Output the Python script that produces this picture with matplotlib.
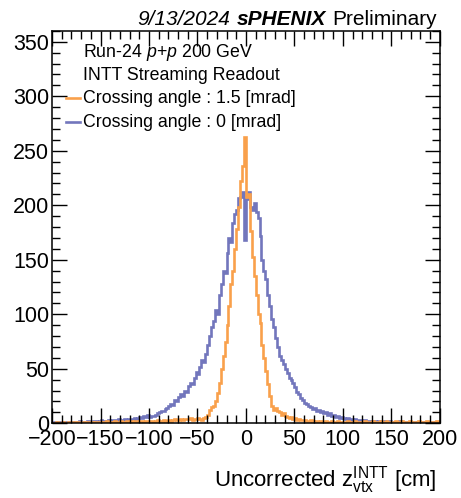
import numpy as np
import matplotlib
matplotlib.use("Agg")
import matplotlib.pyplot as plt
from matplotlib.ticker import MultipleLocator

plt.rcParams['font.family'] = ['Liberation Sans', 'DejaVu Sans']
plt.rcParams['mathtext.fontset'] = 'custom'
plt.rcParams['mathtext.rm'] = 'Liberation Sans'
plt.rcParams['mathtext.it'] = 'Liberation Sans:italic'

# 2 cm bins from -200 to 200 cm
bin_lo = -200
bin_hi = 200
n_bins = 200

# crossing angle 0 mrad
counts_0mrad = [
    0, 1, 0, 1, 1, 0, 1, 1, 0, 1,
    1, 0, 1, 1, 2, 1, 1, 0, 2, 1,
    1, 2, 2, 1, 2, 3, 1, 2, 2, 3,
    2, 3, 3, 2, 4, 3, 3, 4, 2, 4,
    4, 3, 5, 4, 5, 6, 5, 7, 6, 8,
    6, 7, 7, 8, 9, 10, 11, 11, 13, 14,
    16, 18, 17, 21, 20, 24, 27, 25, 30, 29,
    34, 37, 36, 42, 47, 45, 52, 58, 56, 64,
    72, 80, 88, 94, 104, 100, 118, 128, 140, 138,
    156, 170, 166, 184, 192, 196, 207, 208, 212, 168,
    206, 212, 198, 196, 202, 194, 188, 172, 150, 140,
    132, 118, 108, 96, 88, 78, 70, 62, 58, 54,
    50, 46, 42, 40, 37, 33, 29, 27, 23, 21,
    19, 18, 16, 15, 13, 14, 11, 12, 10, 11,
    9, 10, 8, 9, 7, 8, 6, 7, 5, 6,
    5, 4, 5, 3, 4, 3, 4, 2, 3, 3,
    2, 3, 2, 2, 1, 2, 2, 1, 2, 1,
    1, 2, 1, 1, 2, 1, 0, 1, 1, 2,
    1, 0, 1, 1, 0, 1, 1, 0, 1, 0,
    0, 1, 0, 1, 0, 0, 1, 0, 1, 0,
]

# crossing angle 1.5 mrad
counts_15mrad = [
    0, 0, 1, 0, 0, 1, 0, 0, 1, 0,
    0, 1, 0, 1, 0, 0, 1, 0, 1, 1,
    1, 0, 1, 1, 1, 0, 1, 1, 2, 1,
    1, 1, 2, 1, 1, 2, 1, 1, 2, 1,
    2, 1, 2, 2, 1, 2, 2, 1, 2, 2,
    2, 2, 1, 2, 3, 2, 2, 3, 2, 2,
    3, 2, 3, 4, 3, 3, 4, 3, 4, 4,
    4, 5, 3, 4, 4, 5, 4, 3, 5, 6,
    8, 12, 15, 16, 20, 28, 37, 50, 62, 75,
    90, 108, 128, 140, 160, 178, 198, 222, 236, 263,
    208, 210, 176, 153, 135, 118, 100, 92, 72, 60,
    48, 36, 25, 16, 12, 14, 11, 10, 8, 9,
    7, 6, 5, 6, 4, 5, 3, 4, 3, 3,
    3, 2, 2, 3, 2, 1, 2, 1, 2, 1,
    1, 2, 1, 1, 2, 1, 1, 2, 1, 1,
    1, 1, 2, 1, 1, 1, 2, 1, 1, 1,
    1, 2, 1, 1, 1, 2, 1, 1, 1, 2,
    1, 1, 2, 1, 1, 1, 1, 2, 1, 1,
    2, 1, 1, 1, 2, 1, 1, 1, 1, 2,
    1, 1, 1, 2, 1, 1, 1, 1, 2, 1,
]

label_15 = "Crossing angle : 1.5 [mrad]"
label_0 = "Crossing angle : 0 [mrad]"
orange = "#f9a04b"
blue = "#7276bc"

edges = np.linspace(bin_lo, bin_hi, n_bins + 1)

fig = plt.figure(figsize=(4.61, 4.98), dpi=100)
ax = fig.add_axes([0.113, 0.150, 0.841, 0.788])

ax.stairs(counts_0mrad, edges, color=blue, lw=1.9, baseline=None)
ax.stairs(counts_15mrad, edges, color=orange, lw=1.9, baseline=None)

ax.set_xlim(-200, 200)
ax.set_ylim(0, 360)
ax.xaxis.set_major_locator(MultipleLocator(50))
ax.xaxis.set_minor_locator(MultipleLocator(10))
ax.yaxis.set_major_locator(MultipleLocator(50))
ax.yaxis.set_minor_locator(MultipleLocator(10))
ax.tick_params(which='both', direction='in', top=True, right=True, labelsize=15.5)
ax.tick_params(which='major', length=11, width=1.0)
ax.tick_params(which='minor', length=6, width=1.0)
ax.tick_params(axis='x', pad=4)
ax.tick_params(axis='y', pad=2)
for s in ax.spines.values():
    s.set_linewidth(1.1)

# legend block
tx = 0.080
fs_leg = 12.8
ax.text(tx, 0.934, "Run-24 $\\mathit{p}$+$\\mathit{p}$ 200 GeV", transform=ax.transAxes,
        fontsize=fs_leg, va='baseline')
ax.text(tx, 0.875, "INTT Streaming Readout", transform=ax.transAxes,
        fontsize=fs_leg, va='baseline')
ax.text(tx, 0.816, label_15, transform=ax.transAxes, fontsize=fs_leg, va='baseline')
ax.text(tx, 0.755, label_0, transform=ax.transAxes, fontsize=fs_leg, va='baseline')
ax.plot([0.036, 0.072], [0.829, 0.829], color=orange, lw=1.9, transform=ax.transAxes)
ax.plot([0.036, 0.072], [0.768, 0.768], color=blue, lw=1.9, transform=ax.transAxes)

# header: 9/13/2024 sPHENIX Preliminary
fig.canvas.draw()
r = fig.canvas.get_renderer()
inv = fig.transFigure.inverted()
x_right = 0.948
y_base = 0.950
t3 = fig.text(x_right, y_base, "Preliminary", fontsize=15, ha='right', va='baseline')
x3 = inv.transform((t3.get_window_extent(r).x0, 0))[0]
t2 = fig.text(x3 - 0.014, y_base, "sPHENIX", fontsize=15, ha='right', va='baseline',
              fontweight='bold', fontstyle='italic')
x2 = inv.transform((t2.get_window_extent(r).x0, 0))[0]
fig.text(x2 - 0.014, y_base, "9/13/2024", fontsize=15, ha='right', va='baseline',
         fontstyle='italic')

fig.text(0.948, 0.024, "Uncorrected $\\mathrm{z}_{\\mathrm{vtx}}^{\\mathrm{INTT}}$ [cm]",
         fontsize=16, ha='right', va='baseline')

fig.savefig("out.png", dpi=100)
